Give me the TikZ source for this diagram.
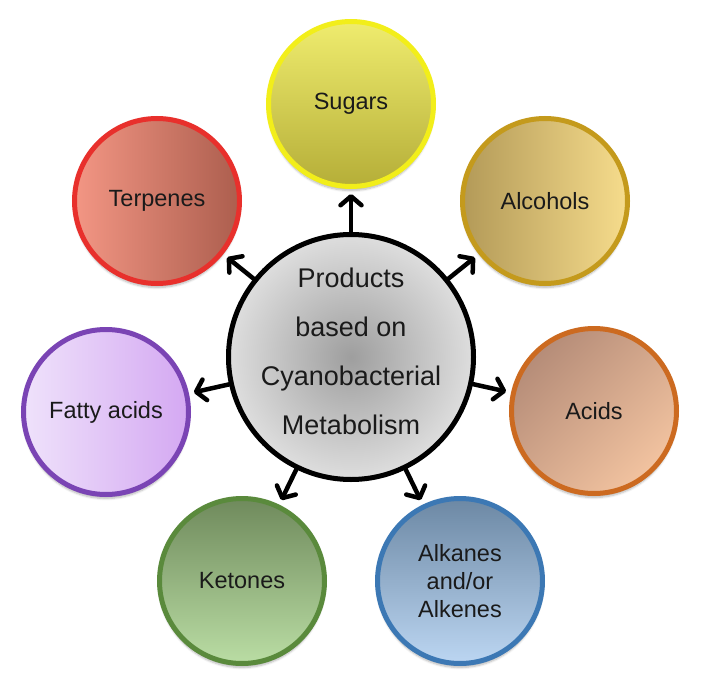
\documentclass[tikz,border=0pt]{standalone}
\usepackage{fontspec}
\setmainfont{Liberation Sans}
\usetikzlibrary{arrows.meta,shadows.blur}
\definecolor{txt}{HTML}{1A1A1A}
\definecolor{sugB}{HTML}{F2EE1A}\definecolor{sugT}{HTML}{EFEC6E}\definecolor{sugD}{HTML}{B5AE38}
\definecolor{alcB}{HTML}{C49A1C}\definecolor{alcL}{HTML}{B39A58}\definecolor{alcR}{HTML}{F6DC8C}
\definecolor{acdB}{HTML}{CC6A20}\definecolor{acdL}{HTML}{B58C78}\definecolor{acdR}{HTML}{F2C3A0}
\definecolor{alkB}{HTML}{3C78B4}\definecolor{alkT}{HTML}{6C88A4}\definecolor{alkD}{HTML}{BCD6F2}
\definecolor{ketB}{HTML}{5A8A3C}\definecolor{ketT}{HTML}{6F8A5C}\definecolor{ketD}{HTML}{BADDA4}
\definecolor{fatB}{HTML}{7A44B4}\definecolor{fatL}{HTML}{EFE2FB}\definecolor{fatR}{HTML}{D4A8F2}
\definecolor{terB}{HTML}{E8302C}\definecolor{terL}{HTML}{F39684}\definecolor{terR}{HTML}{AC5E4E}
\tikzset{
  prod/.style={circle, minimum size=165pt, inner sep=0pt, line width=5pt, align=center,
    text=txt, font=\fontsize{23.5}{28}\selectfont,
    blur shadow={shadow xshift=0pt, shadow yshift=-4pt, shadow blur steps=6, shadow opacity=28}},
  hub/.style={circle, minimum size=245pt, inner sep=0pt, line width=5pt, draw=black,
    inner color=black!38, outer color=black!13},
  hubtext/.style={align=center, text=txt, inner sep=0pt, font=\fontsize{27}{49}\selectfont},
  arr/.style={line width=4.5pt, line cap=round, -{Straight Barb[length=9pt,width=21pt,round]}, shorten >=5pt}
}
\begin{document}
\begin{tikzpicture}[x=1pt,y=-1pt]
\useasboundingbox (0,0) rectangle (702,693);
\node[hub] (c) at (351,357) {};
\node[hubtext] (ct) at (351,351) {Products\\based on\\Cyanobacterial\\Metabolism};
\node[prod, draw=sugB, top color=sugT, bottom color=sugD] (sug) at (351,104) {Sugars};
\node[prod, draw=alcB, left color=alcL, right color=alcR] (alc) at (545,201) {Alcohols};
\node[prod, draw=acdB, left color=acdL, right color=acdR, shading angle=45] (acd) at (594,411) {Acids};
\node[prod, draw=alkB, top color=alkT, bottom color=alkD] (alk) at (460,581) {Alkanes\\and/or\\Alkenes};
\node[prod, draw=ketB, top color=ketT, bottom color=ketD] (ket) at (242,581) {Ketones};
\node[prod, draw=fatB, left color=fatL, right color=fatR] (fat) at (106,412) {Fatty acids};
\node[prod, draw=terB, left color=terL, right color=terR] (ter) at (157,201) {Terpenes};
\foreach \n in {sug,alc,acd,alk,ket,fat,ter}
  \draw[arr] (c) -- (\n);
\end{tikzpicture}
\end{document}
